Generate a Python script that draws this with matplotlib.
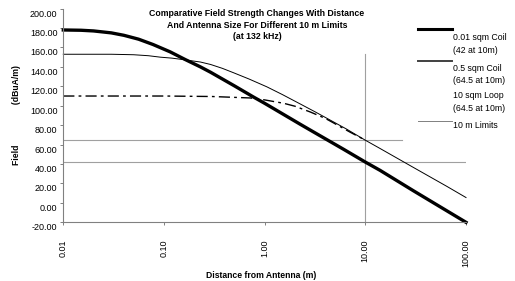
import numpy as np
import matplotlib.pyplot as plt
from matplotlib.lines import Line2D
from matplotlib.ticker import NullLocator
from matplotlib.transforms import ScaledTranslation

plt.rcParams['font.family'] = ['Liberation Sans', 'DejaVu Sans']

# values (distance in m, field in dBuA/m)
coil_small_x = [0.01, 0.015, 0.02, 0.03, 0.04, 0.056, 0.078, 0.115, 0.163, 0.23,
                0.29, 0.5, 0.774, 1.0, 2.25, 3.0, 6.05, 10, 14, 30, 50, 100]
coil_small_y = [178, 177.7, 177, 175, 172.5, 168.5, 163, 155.5, 147.5, 140,
                134.5, 120.5, 109, 102.5, 81, 73.5, 55.3, 42, 33.5, 12.5, -1.3, -20]

coil_big_x = [0.01, 0.03, 0.05, 0.07, 0.092, 0.12, 0.155, 0.23, 0.29, 0.38, 0.49,
              0.7, 1.05, 1.5, 2.24, 3.2, 4.8, 6.5, 10, 14, 30, 64.5, 100]
coil_big_y = [153, 153, 152.5, 151.5, 150, 149, 147.5, 145, 142.5, 138.5, 134,
              127.5, 119.5, 111.5, 102, 93.5, 83.5, 76, 64.5, 56, 36.5, 17, 5.5]

loop_x = [0.01, 0.1, 0.3, 0.72, 1.0, 1.55, 2.0, 2.85, 4.0, 4.8, 7.0, 10]
loop_y = [110, 110, 109.5, 108, 106, 102.5, 99.5, 93.5, 87, 82.5, 73, 64.5]

# 10 m limit markers
limit_levels = [64.5, 42]
limit_ends = [23, 100]
limit_dist = 10
limit_top = 153

x_ticks = [0.01, 0.1, 1, 10, 100]
x_tick_labels = ['0.01', '0.10', '1.00', '10.00', '100.00']
y_ticks = list(range(-20, 201, 20))

legend_labels = ['0.01 sqm Coil\n(42 at 10m)', '0.5 sqm Coil\n(64.5 at 10m)',
                 '10 sqm Loop\n(64.5 at 10m)', '10 m Limits']

W, H = 515, 281
fig = plt.figure(figsize=(W / 100, H / 100), dpi=100)
ax = fig.add_axes([63.3 / W, 1 - 222.3 / H, 402.7 / W, 213.7 / H])

lim_col = '#a0a0a0'
for lvl, end in zip(limit_levels, limit_ends):
    ax.plot([0.01, end], [lvl, lvl], color=lim_col, lw=0.8)
ax.plot([limit_dist, limit_dist], [-20, limit_top], color=lim_col, lw=0.8)

ax.plot(coil_big_x, coil_big_y, color='black', lw=0.7, clip_on=False)
ax.plot(loop_x, loop_y, color='black', lw=1.0, ls=(0, (8, 3, 2, 3)))
ax.plot(coil_small_x, coil_small_y, color='black', lw=2.4, clip_on=False)

ax.set_xscale('log')
ax.set_xlim(0.01, 100)
ax.set_ylim(-20, 200)
ax.set_xticks(x_ticks)
ax.set_xticklabels(x_tick_labels, rotation=90)
ax.xaxis.set_minor_locator(NullLocator())
ax.set_yticks(y_ticks)
ax.set_yticklabels([f'{v:.2f}' for v in y_ticks])

for s in ['top', 'right']:
    ax.spines[s].set_visible(False)
for s in ['left', 'bottom']:
    ax.spines[s].set_color('#808080')
    ax.spines[s].set_linewidth(0.8)

ax.tick_params(axis='both', direction='out', length=2.2, width=0.7,
               color='#808080', labelsize=6.5)
ax.tick_params(axis='x', pad=10)
ax.tick_params(axis='y', pad=2)

# y labels sit a little below their ticks in the original
shift = ScaledTranslation(0, -4.5 / 100, fig.dpi_scale_trans)
for lab in ax.get_yticklabels():
    lab.set_transform(lab.get_transform() + shift)

fig.text(257 / W, 1 - 25 / H,
         'Comparative Field Strength Changes With Distance\n'
         'And Antenna Size For Different 10 m Limits\n(at 132 kHz)',
         ha='center', va='center', fontsize=6.3, fontweight='bold',
         linespacing=1.4)

fig.text(261 / W, 1 - 276 / H, 'Distance from Antenna (m)',
         ha='center', va='center', fontsize=6.2, fontweight='bold')
fig.text(16.7 / W, 1 - 115 / H, 'Field' + ' ' * 17 + '(dBuA/m)',
         ha='center', va='center', rotation=90, fontsize=6.2,
         fontweight='bold')

# legend drawn by hand so the keys sit at the top of each entry
keys = [(29.3, 'black', 2.2), (61, '#404040', 1.4), (None, None, None),
        (120.7, '#808080', 0.7)]
text_y = [44.2, 74.3, 102, 125]
for (ky, kc, kw), ty, lab in zip(keys, text_y, legend_labels):
    if ky is not None:
        fig.add_artist(Line2D([418 / W, 452 / W], [1 - ky / H, 1 - ky / H],
                              color=kc, lw=kw))
    fig.text(453 / W, 1 - ty / H, lab, ha='left', va='center',
             fontsize=6.3, linespacing=1.5)

fig.savefig('out.png', dpi=100)
